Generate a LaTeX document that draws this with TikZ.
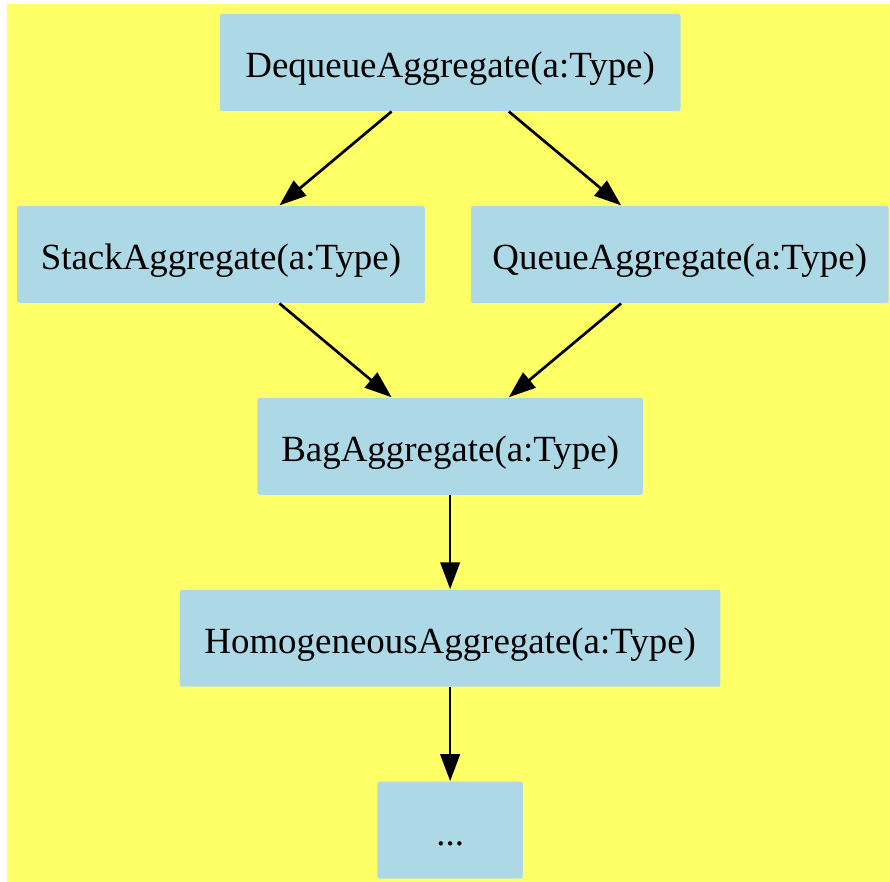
\documentclass[tikz,border=0pt]{standalone}
\usepackage{fontspec}
\setmainfont{Liberation Serif}
\usetikzlibrary{arrows.meta}
\definecolor{bgyellow}{HTML}{FFFF66}
\definecolor{boxblue}{HTML}{ADD8E6}

\begin{document}
\begin{tikzpicture}[
  font=\fontsize{13.7}{16}\selectfont,
  >={Triangle[length=10pt,width=7.2pt]},
  blk/.style={fill=boxblue, rounded corners=0.8pt, align=center, inner sep=0pt,
              text height=11pt, text depth=0pt, minimum height=1.265cm},
  ar/.style={->, line width=1pt},
]
  % background
  \useasboundingbox (0,0) rectangle (11.61,-11.50);
  \fill[bgyellow] (0.091,-0.052) rectangle (11.61,-11.50);

  % aggregates
  \node[blk, minimum width=6.01cm] (deq) at (5.872,-0.815)
        {DequeueAggregate(a:Type)};
  \node[blk, minimum width=5.32cm] (stk) at (2.882,-3.319)
        {StackAggregate(a:Type)};
  \node[blk, minimum width=5.45cm] (que) at (8.867,-3.319)
        {QueueAggregate(a:Type)};
  \node[blk, minimum width=5.03cm] (bag) at (5.872,-5.822)
        {BagAggregate(a:Type)};
  \node[blk, minimum width=7.05cm] (hom) at (5.872,-8.326)
        {HomogeneousAggregate(a:Type)};
  \node[blk, minimum width=1.90cm] (dots) at (5.872,-10.83) {...};

  \draw[ar] (deq) -- (stk);
  \draw[ar] (deq) -- (que);
  \draw[ar] (stk) -- (bag);
  \draw[ar] (que) -- (bag);
  \draw[ar] (bag) -- (hom);
  \draw[ar] (hom) -- (dots);
\end{tikzpicture}
\end{document}
